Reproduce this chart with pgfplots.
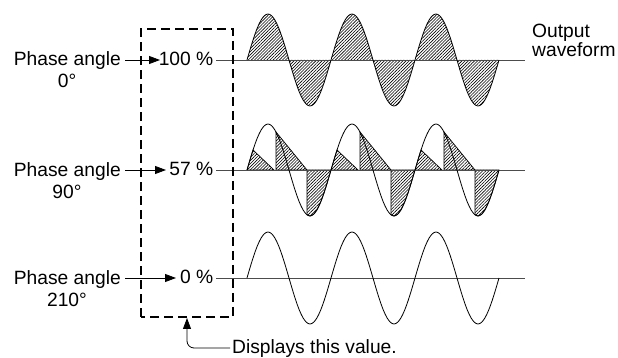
\documentclass[border=0pt]{standalone}
\usepackage{pgfplots}
\pgfplotsset{compat=1.18}
\usepackage{pgfplotstable}
\usepackage{fontspec}
\setmainfont{Liberation Sans}
\usetikzlibrary{arrows.meta,patterns.meta}

% one sine, three cycles, offsets above the row's baseline (px)
\pgfplotstableread{
x y
247 0
250.5 11.9
254 23
257.5 32.5
261 39.8
264.5 44.4
268 46
271.5 44.4
275 39.8
278.5 32.5
282 23
285.5 11.9
289 0
292.5 -11.9
296 -23
299.5 -32.5
303 -39.8
306.5 -44.4
310 -46
313.5 -44.4
317 -39.8
320.5 -32.5
324 -23
327.5 -11.9
331 0
334.5 11.9
338 23
341.5 32.5
345 39.8
348.5 44.4
352 46
355.5 44.4
359 39.8
362.5 32.5
366 23
369.5 11.9
373 0
376.5 -11.9
380 -23
383.5 -32.5
387 -39.8
390.5 -44.4
394 -46
397.5 -44.4
401 -39.8
404.5 -32.5
408 -23
411.5 -11.9
415 0
418.5 11.9
422 23
425.5 32.5
429 39.8
432.5 44.4
436 46
439.5 44.4
443 39.8
446.5 32.5
450 23
453.5 11.9
457 0
460.5 -11.9
464 -23
467.5 -32.5
471 -39.8
474.5 -44.4
478 -46
481.5 -44.4
485 -39.8
488.5 -32.5
492 -23
495.5 -11.9
499 0
}\sinewave

\begin{document}
\begin{tikzpicture}[font=\fontsize{19.3}{22}\selectfont,
    hatch/.style={pattern={Lines[angle=45,distance=2.2bp,line width=0.6bp]}, pattern color=black},
    wave/.style={black, line width=0.8bp, smooth},
    baseln/.style={black!70, line width=0.8bp},
    lbl/.style={inner sep=0pt},
    arr/.style={line width=0.8bp, -{Triangle[length=11bp,width=8bp]}},
]
\begin{axis}[
    width=618bp, height=358bp, scale only axis,
    xmin=0, xmax=618, ymin=0, ymax=358,
    hide axis, clip=false,
]
% --- row 1: 100 %
\addplot[hatch, draw=none, smooth] table[y expr=\thisrow{y}+298] {\sinewave} -- cycle;
\draw[baseln] (216,298) -- (525,298);
\addplot[wave] table[y expr=\thisrow{y}+298] {\sinewave};

% --- row 2: 57 %
\addplot[hatch, draw=black, line width=0.7bp] coordinates {(247,188)(250,198.2)(253,208)(274,188)} -- cycle;
\addplot[hatch, draw=black, line width=0.7bp] coordinates {(276,188)(276,226)(307,188)} -- cycle;
\addplot[hatch, draw=black, line width=0.7bp] coordinates {(307,188)(307,143.2)(310,142)(313.5,143.6)(317,148.2)(320.5,155.5)(324,165)(327.5,176.1)(331,188)} -- cycle;
\addplot[hatch, draw=black, line width=0.7bp] coordinates {(331,188)(334,198.2)(337,208)(358,188)} -- cycle;
\addplot[hatch, draw=black, line width=0.7bp] coordinates {(360,188)(360,226)(391,188)} -- cycle;
\addplot[hatch, draw=black, line width=0.7bp] coordinates {(391,188)(391,143.2)(394,142)(397.5,143.6)(401,148.2)(404.5,155.5)(408,165)(411.5,176.1)(415,188)} -- cycle;
\addplot[hatch, draw=black, line width=0.7bp] coordinates {(415,188)(418,198.2)(421,208)(442,188)} -- cycle;
\addplot[hatch, draw=black, line width=0.7bp] coordinates {(444,188)(444,226)(475,188)} -- cycle;
\addplot[hatch, draw=black, line width=0.7bp] coordinates {(475,188)(475,143.2)(478,142)(481.5,143.6)(485,148.2)(488.5,155.5)(492,165)(495.5,176.1)(499,188)} -- cycle;
\draw[baseln] (216,188) -- (525,188);
\addplot[wave] table[y expr=\thisrow{y}+188] {\sinewave};

% --- row 3: 0 %
\draw[baseln] (216,80) -- (525,80);
\addplot[wave] table[y expr=\thisrow{y}+80] {\sinewave};

% --- labels and arrows
\node[lbl, anchor=base east] at (121,292) {Phase angle};
\node[lbl, anchor=base] at (67,270) {0°};
\node[lbl, anchor=base east] at (121,181) {Phase angle};
\node[lbl, anchor=base] at (67,159) {90°};
\node[lbl, anchor=base east] at (121,73) {Phase angle};
\node[lbl, anchor=base] at (67,51) {210°};

\draw[arr] (125,298) -- (160,298);
\draw[arr] (125,188) -- (166,188);
\draw[arr] (125,80) -- (176,80);

\node[lbl, anchor=base east] at (213.5,292) {100 \%};
\node[lbl, anchor=base east] at (213.5,182) {57 \%};
\node[lbl, anchor=base east] at (213.5,74) {0 \%};

\draw[line width=1.8bp, dash pattern=on 9bp off 5bp] (141,41) rectangle (233,329);

\draw[line width=0.8bp, rounded corners=7bp, -{Triangle[length=11bp,width=8bp]}] (230,10) -| (187,40);
\node[lbl, anchor=base west] at (232,4.2) {Displays this value.};

\node[lbl, anchor=base west] at (532,320) {Output};
\node[lbl, anchor=base west] at (532,301) {waveform};
\end{axis}
\pgfresetboundingbox
\useasboundingbox (current axis.south west) rectangle (current axis.north east);
\end{tikzpicture}
\end{document}
